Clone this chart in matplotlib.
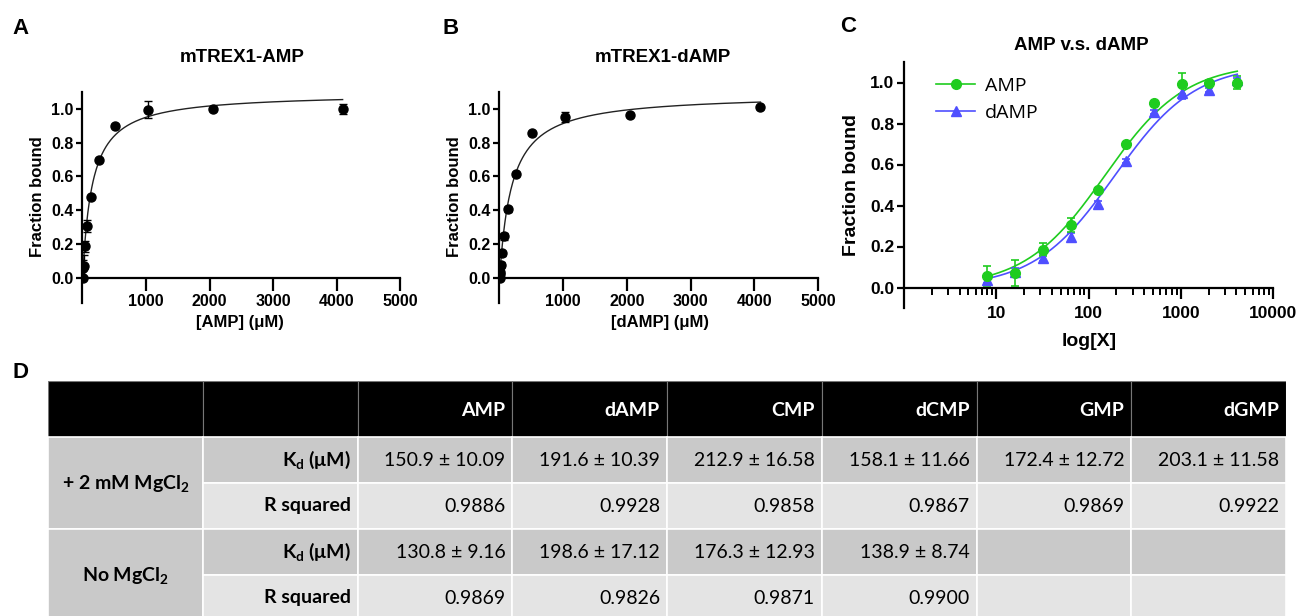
import numpy as np
import matplotlib
matplotlib.use("Agg")
import matplotlib.pyplot as plt
from matplotlib.patches import Rectangle
from matplotlib.ticker import LogLocator, NullFormatter

plt.rcParams['font.family'] = ['Liberation Sans', 'DejaVu Sans']
plt.rcParams['mathtext.default'] = 'regular'

# ---- data ----
conc = [8, 16, 32, 64, 128, 256, 512, 1024, 2048, 4096]
amp_y = [0.055, 0.07, 0.185, 0.305, 0.475, 0.70, 0.90, 0.995, 1.0, 1.0]
amp_err = [0.05, 0.065, 0.03, 0.035, 0.01, 0.01, 0.01, 0.05, 0.01, 0.03]
damp_y = [0.035, 0.075, 0.145, 0.245, 0.405, 0.615, 0.855, 0.95, 0.965, 1.01]
damp_err = [0.015, 0.02, 0.015, 0.02, 0.015, 0.01, 0.01, 0.03, 0.01, 0.01]

# panel A/B also have a zero point
amp_x0 = [0] + conc
amp_y0 = [0.0] + amp_y
amp_e0 = [0.0] + amp_err
damp_x0 = [0, 4] + conc
damp_y0 = [0.0, 0.02] + damp_y
damp_e0 = [0.0, 0.01] + damp_err

# one-site fit parameters
kd_amp, bmax_amp = 150.9, 1.094
kd_damp, bmax_damp = 191.6, 1.089

# table
col_names = ['', '', 'AMP', 'dAMP', 'CMP', 'dCMP', 'GMP', 'dGMP']
groups = ['+ 2 mM MgCl$_2$', 'No MgCl$_2$']
row_names = ['K$_d$ (μM)', 'R squared', 'K$_d$ (μM)', 'R squared']
cells = [
    ['150.9 ± 10.09', '191.6 ± 10.39', '212.9 ± 16.58', '158.1 ± 11.66', '172.4 ± 12.72', '203.1 ± 11.58'],
    ['0.9886', '0.9928', '0.9858', '0.9867', '0.9869', '0.9922'],
    ['130.8 ± 9.16', '198.6 ± 17.12', '176.3 ± 12.93', '138.9 ± 8.74', '', ''],
    ['0.9869', '0.9826', '0.9871', '0.9900', '', ''],
]

green = '#1fcc1f'
blue = '#4f4fff'

W, H = 1300, 616
fig = plt.figure(figsize=(13, 6.16), dpi=100)


def ax_px(x0, y0, x1, y1):
    # pixel box (top-left origin) to axes
    return fig.add_axes([x0 / W, 1 - y1 / H, (x1 - x0) / W, (y1 - y0) / H])


def ftext(x, y, s, **kw):
    fig.text(x / W, 1 - y / H, s, **kw)


def style_lin(ax):
    for s in ['top', 'right']:
        ax.spines[s].set_visible(False)
    ax.spines['left'].set_linewidth(1.6)
    ax.spines['bottom'].set_linewidth(1.6)
    ax.spines['bottom'].set_position(('data', 0))
    ax.tick_params(axis='both', width=1.6, labelsize=11.5)
    ax.tick_params(axis='y', length=4, pad=2)
    ax.tick_params(axis='x', length=9, pad=3)
    for lab in ax.get_xticklabels() + ax.get_yticklabels():
        lab.set_fontweight('bold')


# ---- panel A ----
axA = ax_px(82, 92, 400, 303)
xx = np.linspace(0, 4096, 400)
axA.plot(xx, bmax_amp * xx / (kd_amp + xx), color='#222222', lw=1.0)
axA.errorbar(amp_x0, amp_y0, yerr=amp_e0, fmt='o', color='black', ms=6.5,
             capsize=3, elinewidth=1, capthick=1)
axA.set_xlim(-10, 5000)
axA.set_ylim(-0.15, 1.1)
axA.set_xticks([1000, 2000, 3000, 4000, 5000])
axA.set_yticks([0, 0.2, 0.4, 0.6, 0.8, 1.0])
axA.set_yticklabels(['0.0', '0.2', '0.4', '0.6', '0.8', '1.0'])
style_lin(axA)

# ---- panel B ----
axB = ax_px(499, 92, 818, 303)
axB.plot(xx, bmax_damp * xx / (kd_damp + xx), color='#222222', lw=1.0)
axB.errorbar(damp_x0, damp_y0, yerr=damp_e0, fmt='o', color='black', ms=6.5,
             capsize=3, elinewidth=1, capthick=1)
axB.set_xlim(-10, 5000)
axB.set_ylim(-0.15, 1.1)
axB.set_xticks([1000, 2000, 3000, 4000, 5000])
axB.set_yticks([0, 0.2, 0.4, 0.6, 0.8, 1.0])
axB.set_yticklabels(['0.0', '0.2', '0.4', '0.6', '0.8', '1.0'])
style_lin(axB)

# ---- panel C ----
axC = ax_px(904, 62, 1273, 308)
xl = np.logspace(np.log10(8), np.log10(4096), 300)
axC.plot(xl, bmax_amp * xl / (kd_amp + xl), color=green, lw=1.2)
axC.plot(xl, bmax_damp * xl / (kd_damp + xl), color=blue, lw=1.2)
axC.errorbar(conc, damp_y, yerr=damp_err, fmt='^', color=blue, ms=7,
             capsize=3, elinewidth=1.2, capthick=1.2)
axC.errorbar(conc, amp_y, yerr=amp_err, fmt='o', color=green, ms=7,
             capsize=3, elinewidth=1.2, capthick=1.2)
axC.set_xscale('log')
axC.set_xlim(1, 10000)
axC.set_ylim(-0.1, 1.1)
axC.set_xticks([10, 100, 1000, 10000])
axC.set_xticklabels(['10', '100', '1000', '10000'])
axC.xaxis.set_minor_locator(LogLocator(base=10, subs=np.arange(2, 10)))
axC.xaxis.set_minor_formatter(NullFormatter())
axC.set_yticks([0, 0.2, 0.4, 0.6, 0.8, 1.0])
axC.set_yticklabels(['0.0', '0.2', '0.4', '0.6', '0.8', '1.0'])
for s in ['top', 'right']:
    axC.spines[s].set_visible(False)
axC.spines['left'].set_linewidth(1.6)
axC.spines['bottom'].set_linewidth(1.6)
axC.spines['bottom'].set_position(('data', 0))
axC.tick_params(axis='both', width=1.6, labelsize=12.5)
axC.tick_params(axis='y', length=5, pad=2)
axC.tick_params(axis='x', which='major', length=8, pad=5.5)
axC.tick_params(axis='x', which='minor', length=5, width=1.4)
for lab in axC.get_xticklabels() + axC.get_yticklabels():
    lab.set_fontweight('bold')

h1, = axC.plot([], [], color=green, marker='o', ms=7, lw=1.2)
h2, = axC.plot([], [], color=blue, marker='^', ms=7, lw=1.2)
axC.legend([h1, h2], ['AMP', 'dAMP'], loc='upper left', bbox_to_anchor=(0.04, 1.01),
           frameon=False, handlelength=2.0, handletextpad=0.5,
           labelspacing=0.45, prop={'family': 'Open Sans', 'size': 14})

# ---- text labels ----
ftext(12, 28, 'A', fontsize=16, fontweight='bold', va='center')
ftext(443, 28, 'B', fontsize=16, fontweight='bold', va='center')
ftext(840, 27, 'C', fontsize=16, fontweight='bold', va='center')
ftext(12, 372, 'D', fontsize=16, fontweight='bold', va='center')

ftext(242, 58, 'mTREX1-AMP', fontsize=13.5, fontweight='bold', ha='center', va='center')
ftext(663, 58, 'mTREX1-dAMP', fontsize=13.5, fontweight='bold', ha='center', va='center')
ftext(1081, 45, 'AMP v.s. dAMP', fontsize=13.5, fontweight='bold', ha='center', va='center')

ftext(240, 323, '[AMP] (μM)', fontsize=12, fontweight='bold', ha='center', va='center')
ftext(660, 323, '[dAMP] (μM)', fontsize=12, fontweight='bold', ha='center', va='center')
ftext(1089, 342, 'log[X]', fontsize=14, fontweight='bold', ha='center', va='center')

ftext(37, 197, 'Fraction bound', fontsize=12, fontweight='bold', ha='center', va='center', rotation=90)
ftext(455, 197, 'Fraction bound', fontsize=12, fontweight='bold', ha='center', va='center', rotation=90)
ftext(851, 185, 'Fraction bound', fontsize=14, fontweight='bold', ha='center', va='center', rotation=90)

# ---- panel D table ----
tx0, tx1, ty0 = 48, 1286, 381
head_h, row_h = 56, 46
axT = ax_px(tx0, ty0, tx1, ty0 + head_h + 4 * row_h)
axT.set_xlim(0, tx1 - tx0)
axT.set_ylim(head_h + 4 * row_h, 0)
axT.axis('off')
cw = (tx1 - tx0) / len(col_names)
dark, light = '#c9c9c9', '#e4e4e4'
tfont = ['Lato', 'DejaVu Sans']
tsize = 14

for j, name in enumerate(col_names):
    axT.add_patch(Rectangle((j * cw, 0), cw, head_h, facecolor='black',
                            edgecolor='#777777', lw=0.8))
    if name:
        axT.text((j + 1) * cw - 7, head_h / 2 + 2, name, color='white', fontsize=tsize,
                 fontweight='bold', ha='right', va='center', family=tfont)

for g, gname in enumerate(groups):
    y0 = head_h + 2 * g * row_h
    axT.add_patch(Rectangle((0, y0), cw, 2 * row_h, facecolor=dark,
                            edgecolor='white', lw=1.2))
    axT.text(cw / 2, y0 + row_h, gname, fontsize=tsize, fontweight='bold',
             ha='center', va='center', family=tfont)

for i, rname in enumerate(row_names):
    y0 = head_h + i * row_h
    fc = dark if i % 2 == 0 else light
    for j in range(1, len(col_names)):
        axT.add_patch(Rectangle((j * cw, y0), cw, row_h, facecolor=fc,
                                edgecolor='white', lw=1.2))
    axT.text(2 * cw - 7, y0 + row_h / 2, rname, fontsize=tsize, fontweight='bold',
             ha='right', va='center', family=tfont)
    for k, val in enumerate(cells[i]):
        axT.text((k + 3) * cw - 7, y0 + row_h / 2, val, fontsize=tsize,
                 ha='right', va='center', family=tfont)

fig.savefig('out.png', dpi=100)
